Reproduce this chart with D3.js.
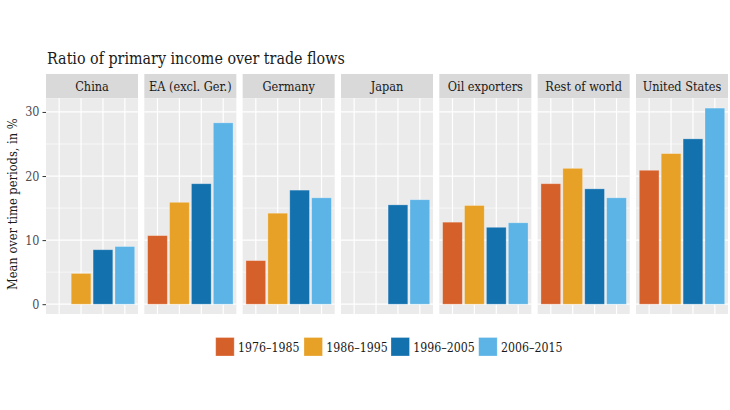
<!DOCTYPE html>
<html>
<head>
<meta charset="utf-8">
<script src="https://cdn.jsdelivr.net/npm/d3@7"></script>
<style>
  html, body { margin: 0; padding: 0; background: #ffffff; }
  svg { display: block; }
  text { font-family: "DejaVu Serif Condensed", "Liberation Serif", serif; }
</style>
</head>
<body>
<script>
// ---- data ----
const regions = ["China", "EA (excl. Ger.)", "Germany", "Japan", "Oil exporters", "Rest of world", "United States"];
const periods = ["1976\u20131985", "1986\u20131995", "1996\u20132005", "2006\u20132015"];
const v1976 = [null, 10.7, 6.8, null, 12.8, 18.8, 20.9];
const v1986 = [4.8, 15.9, 14.2, null, 15.4, 21.2, 23.5];
const v1996 = [8.5, 18.8, 17.8, 15.5, 12.0, 18.0, 25.8];
const v2006 = [9.0, 28.3, 16.6, 16.3, 12.7, 16.6, 30.6];
const yTicks = [0, 10, 20, 30];
const yMinor = [5, 15, 25];
const colors = ["#D6602A", "#E7A126", "#1371AE", "#5BB3E6"];
const title = "Ratio of primary income over trade flows";
const yTitle = "Mean over time periods, in %";

const series = [v1976, v1986, v1996, v2006];

// ---- layout ----
const W = 730, H = 410;
const left = 46, right = 728;
const gap = 6.33;
const nP = regions.length;
const pw = (right - left - gap * (nP - 1)) / nP;
const stripTop = 74, stripH = 24.3;
const panelTop = stripTop + stripH, panelBottom = 314;

const svg = d3.select("body").append("svg").attr("width", W).attr("height", H);

// fit helper: scale font so rendered width matches target width
function fit(sel, target) {
  const fs = +sel.attr("font-size");
  const w = sel.node().getComputedTextLength();
  if (w > 0) sel.attr("font-size", fs * target / w);
}

const maxV = d3.max(series.flat().filter(v => v != null));
const yMin = 0, span = maxV - yMin;
const y = d3.scaleLinear()
  .domain([yMin - 0.05 * span, maxV + 0.05 * span])
  .range([panelBottom, panelTop]);

const xIdx = d3.scaleLinear().domain([-0.6, periods.length - 1 + 0.6]).range([0, pw]);
const barW = xIdx(0.9) - xIdx(0);

// title
const t = svg.append("text")
  .attr("x", 47).attr("y", 64)
  .attr("font-size", 16)
  .attr("fill", "#1a1a1a")
  .text(title);
fit(t, 298);

// y axis title
const yt = svg.append("text")
  .attr("transform", `translate(16.5,${(panelTop + panelBottom) / 2 - 2}) rotate(-90)`)
  .attr("text-anchor", "middle")
  .attr("font-size", 12.5)
  .attr("fill", "#1a1a1a")
  .text(yTitle);
fit(yt, 172);

regions.forEach((r, i) => {
  const x0 = left + i * (pw + gap);
  const g = svg.append("g").attr("transform", `translate(${x0},0)`);
  // strip
  g.append("rect").attr("x", 0).attr("y", stripTop).attr("width", pw).attr("height", stripH).attr("fill", "#D9D9D9");
  g.append("text").attr("x", pw / 2).attr("y", stripTop + stripH / 2 + 4.5)
    .attr("text-anchor", "middle").attr("font-size", 12.6).attr("fill", "#1a1a1a").text(r);
  // panel bg
  g.append("rect").attr("x", 0).attr("y", panelTop).attr("width", pw).attr("height", panelBottom - panelTop).attr("fill", "#EBEBEB");
  // minor grid
  g.selectAll("line.minor").data(yMinor).join("line")
    .attr("x1", 0).attr("x2", pw).attr("y1", d => y(d)).attr("y2", d => y(d))
    .attr("stroke", "#ffffff").attr("stroke-width", 0.6);
  // major grid
  g.selectAll("line.majorY").data(yTicks).join("line")
    .attr("x1", 0).attr("x2", pw).attr("y1", d => y(d)).attr("y2", d => y(d))
    .attr("stroke", "#ffffff").attr("stroke-width", 1.2);
  g.selectAll("line.majorX").data(periods).join("line")
    .attr("x1", (d, k) => xIdx(k)).attr("x2", (d, k) => xIdx(k))
    .attr("y1", panelTop).attr("y2", panelBottom)
    .attr("stroke", "#ffffff").attr("stroke-width", 1.2);
  // bars
  const bars = periods.map((p, k) => ({ k, v: series[k][i] })).filter(d => d.v != null);
  g.selectAll("rect.bar").data(bars).join("rect")
    .attr("x", d => xIdx(d.k) - barW / 2)
    .attr("width", barW)
    .attr("y", d => y(d.v))
    .attr("height", d => y(0) - y(d.v))
    .attr("fill", d => colors[d.k])
    .attr("stroke", "#ffffff").attr("stroke-opacity", 0.35).attr("stroke-width", 0.8);
});

// y axis (left of first panel)
const yAxis = svg.append("g").attr("transform", `translate(${left},0)`)
  .call(d3.axisLeft(y).tickValues(yTicks).tickSize(3.5).tickPadding(3));
yAxis.select(".domain").remove();
yAxis.selectAll("line").attr("stroke", "#333333");
yAxis.selectAll("text").attr("fill", "#4D4D4D").attr("font-size", 12.5)
  .attr("font-family", "DejaVu Serif Condensed, Liberation Serif, serif");

// legend
const legX = [215.7, 304, 391, 478.7];
const lg = svg.append("g");
periods.forEach((p, k) => {
  lg.append("rect").attr("x", legX[k]).attr("y", 337.5).attr("width", 18.5).attr("height", 18.5)
    .attr("fill", colors[k]).attr("stroke", "#ffffff").attr("stroke-opacity", 0.35).attr("stroke-width", 0.8);
  const lt = lg.append("text").attr("x", legX[k] + 22.3).attr("y", 351.5).attr("font-size", 12)
    .attr("fill", "#1a1a1a").text(p);
  fit(lt, 61.5);
});
</script>
</body>
</html>
